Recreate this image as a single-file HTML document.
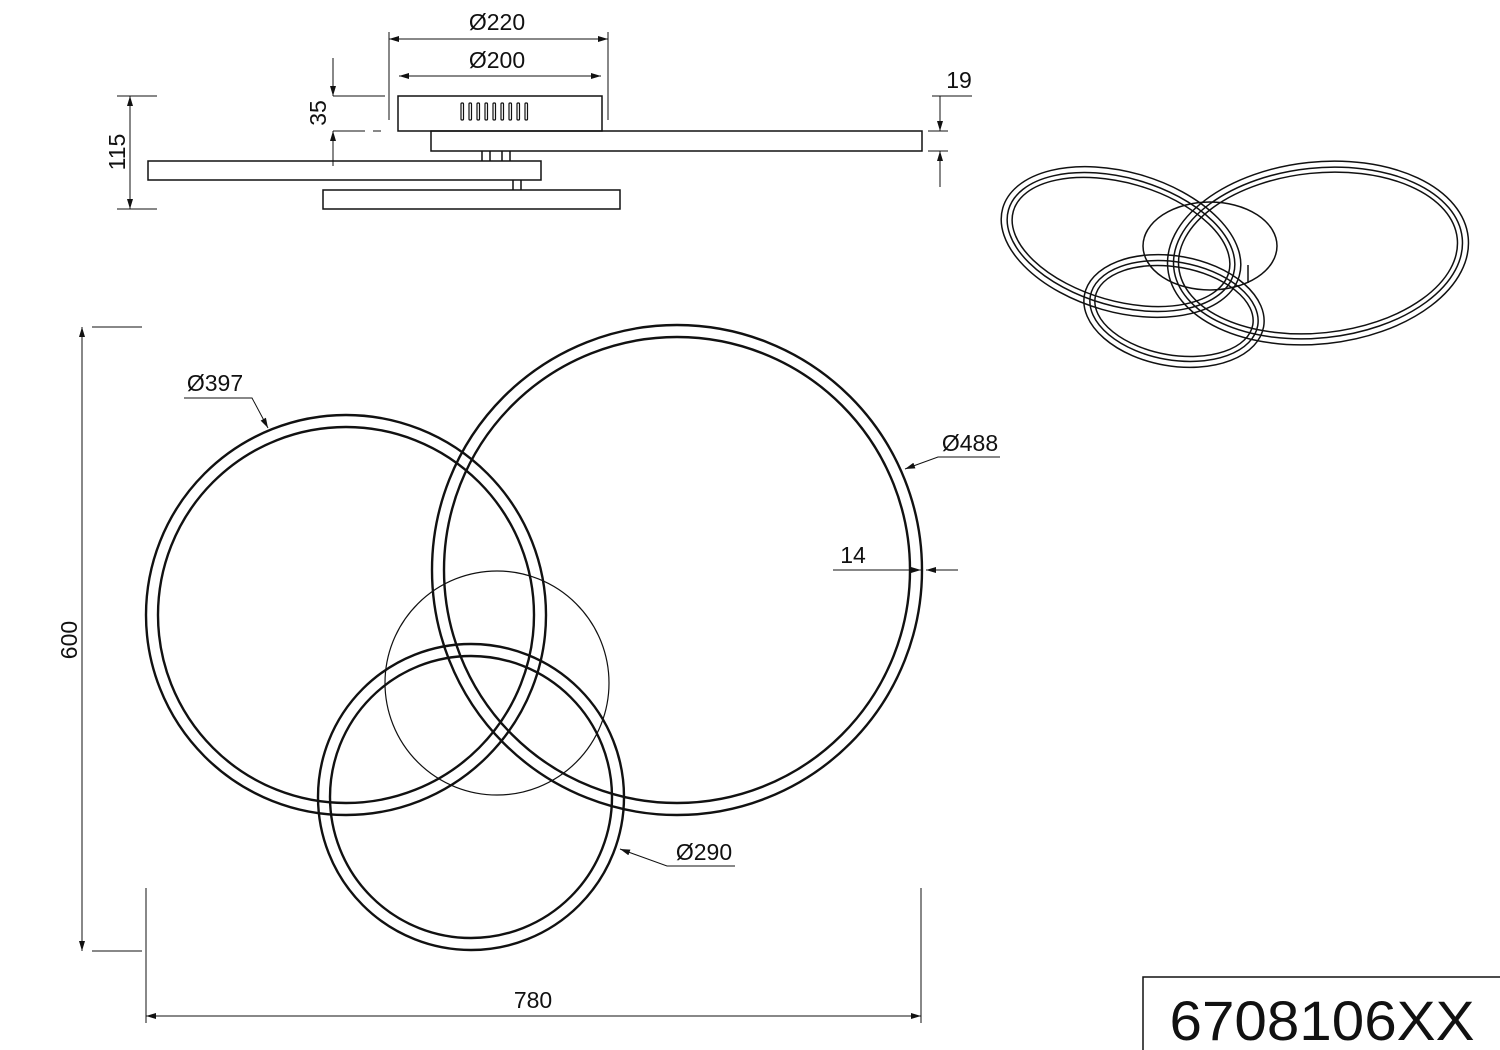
<!DOCTYPE html>
<html><head><style>body{margin:0;background:#fff}svg{display:block}</style></head><body>
<svg width="1500" height="1050" viewBox="0 0 1500 1050" xmlns="http://www.w3.org/2000/svg" font-family="Liberation Sans, sans-serif" fill="none" stroke="#111">
<defs><marker id="a" viewBox="0 0 10 6" refX="10" refY="3" markerWidth="14" markerHeight="6" orient="auto-start-reverse" markerUnits="userSpaceOnUse"><path d="M0,0 L10,3 L0,6 Z" fill="#111" stroke="none"/></marker></defs>
<g stroke-width="1.5">
<rect x="398" y="96" width="204" height="35"/>
<g stroke-width="1.2"><rect x="461" y="103" width="2.5" height="17" rx="1"/><rect x="469" y="103" width="2.5" height="17" rx="1"/><rect x="477" y="103" width="2.5" height="17" rx="1"/><rect x="485" y="103" width="2.5" height="17" rx="1"/><rect x="493" y="103" width="2.5" height="17" rx="1"/><rect x="501" y="103" width="2.5" height="17" rx="1"/><rect x="509" y="103" width="2.5" height="17" rx="1"/><rect x="517" y="103" width="2.5" height="17" rx="1"/><rect x="525" y="103" width="2.5" height="17" rx="1"/></g>
<rect x="431" y="131" width="491" height="20"/>
<rect x="148" y="161" width="393" height="19"/>
<rect x="323" y="190" width="297" height="19"/>
<path d="M482 151v10M490 151v10M502 151v10M510 151v10M513 180v10M521 180v10"/>
<g stroke-width="1">
<path d="M389 32v88M608 32v88"/>
<path d="M389 39H608" marker-start="url(#a)" marker-end="url(#a)"/>
<path d="M399 76H601" marker-start="url(#a)" marker-end="url(#a)"/>
<path d="M333 96h52M333 131h32M373 131h8"/>
<path d="M333 58v38" marker-end="url(#a)"/><path d="M333 166v-35" marker-end="url(#a)"/>
<path d="M117 96h40M117 209h40"/>
<path d="M130 96V209" marker-start="url(#a)" marker-end="url(#a)"/>
<path d="M932 96h40M928 131h20M928 151h20"/>
<path d="M940 96v35" marker-end="url(#a)"/><path d="M940 187v-36" marker-end="url(#a)"/>
</g>
</g>
<g fill="#111" stroke="none" font-size="23">
<text x="497" y="30" text-anchor="middle">Ø220</text>
<text x="497" y="68" text-anchor="middle">Ø200</text>
<text x="959" y="88" text-anchor="middle">19</text>
<text transform="translate(326,113) rotate(-90)" text-anchor="middle">35</text>
<text transform="translate(125,152) rotate(-90)" text-anchor="middle">115</text>
</g>
<g stroke-width="2.4">
<circle cx="497" cy="683" r="112" stroke-width="1.2"/>
<circle cx="346" cy="615" r="200"/><circle cx="346" cy="615" r="188"/>
<circle cx="677" cy="570" r="245"/><circle cx="677" cy="570" r="233"/>
<circle cx="471" cy="797" r="153"/><circle cx="471" cy="797" r="141"/>
</g>
<g stroke-width="1">
<path d="M92 327h50M92 951h50M146 888v135M921 888v135"/>
<path d="M82 327V951" marker-start="url(#a)" marker-end="url(#a)"/>
<path d="M146 1016H921" marker-start="url(#a)" marker-end="url(#a)"/>
<path d="M184 398h68l16 30" marker-end="url(#a)"/>
<path d="M1000 457h-62l-33 12" marker-end="url(#a)"/>
<path d="M735 866h-68l-47 -17" marker-end="url(#a)"/>
<path d="M833 570h88" marker-end="url(#a)"/>
<path d="M958 570h-32" marker-end="url(#a)"/>
</g>
<g fill="#111" stroke="none" font-size="23">
<text x="215" y="391" text-anchor="middle">Ø397</text>
<text x="970" y="451" text-anchor="middle">Ø488</text>
<text x="704" y="860" text-anchor="middle">Ø290</text>
<text x="853" y="563" text-anchor="middle">14</text>
<text x="533" y="1008" text-anchor="middle">780</text>
<text transform="translate(77,640) rotate(-90)" text-anchor="middle">600</text>
</g>
<g stroke-width="1.5">
<ellipse cx="1210" cy="246" rx="67" ry="44"/>
<path d="M1248 265v18"/>
<g transform="rotate(-6 1318 253)"><ellipse cx="1318" cy="253" rx="151" ry="91"/><ellipse cx="1318" cy="253" rx="145" ry="85"/><ellipse cx="1318" cy="253" rx="140" ry="80"/></g>
<g transform="rotate(16 1121 242)"><ellipse cx="1121" cy="242" rx="123" ry="70"/><ellipse cx="1121" cy="242" rx="117" ry="64"/><ellipse cx="1121" cy="242" rx="112" ry="59"/></g>
<g transform="rotate(10 1174 311)"><ellipse cx="1174" cy="311" rx="91" ry="55"/><ellipse cx="1174" cy="311" rx="85" ry="49"/><ellipse cx="1174" cy="311" rx="80" ry="44"/></g>
</g>
<path d="M1143 1050V977H1500" stroke-width="1.5"/>
<text x="1322" y="1040" text-anchor="middle" font-size="56" textLength="305" lengthAdjust="spacingAndGlyphs" fill="#111" stroke="none">6708106XX</text>
</svg>
</body></html>
